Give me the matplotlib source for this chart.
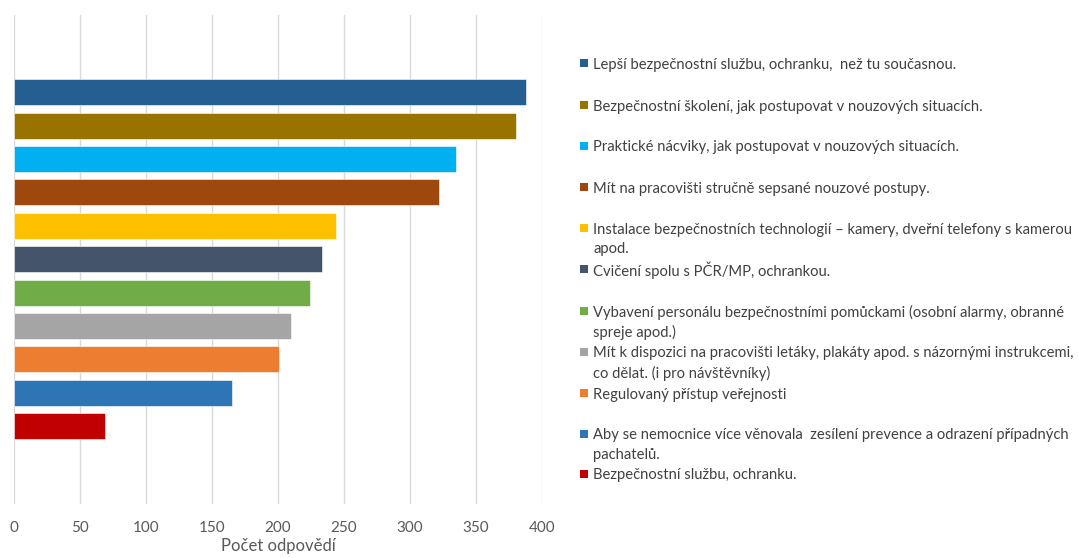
import matplotlib
matplotlib.use("Agg")
from matplotlib import pyplot as plt
from matplotlib.patches import Rectangle

# data (top to bottom)
labels = [
	"Lepší bezpečnostní službu, ochranku,  než tu současnou.",
	"Bezpečnostní školení, jak postupovat v nouzových situacích.",
	"Praktické nácviky, jak postupovat v nouzových situacích.",
	"Mít na pracovišti stručně sepsané nouzové postupy.",
	"Instalace bezpečnostních technologií – kamery, dveřní telefony s kamerou\napod.",
	"Cvičení spolu s PČR/MP, ochrankou.",
	"Vybavení personálu bezpečnostními pomůckami (osobní alarmy, obranné\nspreje apod.)",
	"Mít k dispozici na pracovišti letáky, plakáty apod. s názornými instrukcemi,\nco dělat. (i pro návštěvníky)",
	"Regulovaný přístup veřejnosti",
	"Aby se nemocnice více věnovala  zesílení prevence a odrazení případných\npachatelů.",
	"Bezpečnostní službu, ochranku.",
]
values = [388, 380, 335, 322, 244, 233, 224, 210, 201, 165, 69]
colors = ["#255e91", "#997300", "#00b0f0", "#9e480e", "#ffc000", "#44546a",
	"#70ad47", "#a5a5a5", "#ed7d31", "#2e75b6", "#c00000"]
xticks = [0, 50, 100, 150, 200, 250, 300, 350, 400]
xlabel = "Počet odpovědí"

# legend first-line positions (pixels from top)
legend_y = [63, 105, 146, 187, 228, 269, 311, 352, 393, 434, 474]

W, H = 1079, 558
plt.rcParams['font.family'] = ['Lato', 'DejaVu Sans']

fig = plt.figure(figsize=(W / 100, H / 100), dpi=100)
ax = fig.add_axes([14 / W, (H - 504) / H, (542 - 14) / W, (504 - 15) / H])

pos = list(range(len(values)))
ax.barh(pos, values, height=0.78, color=colors, edgecolor="white", linewidth=0.4, zorder=3)
ax.set_ylim(12.33, -2.31)
ax.set_xlim(0, 400)
ax.set_xticks(xticks)
ax.set_yticks([])
ax.grid(axis="x", color="#d9d9d9", linewidth=1, zorder=0)
for s in ax.spines.values():
	s.set_visible(False)
ax.tick_params(axis="x", length=0, pad=12, labelsize=11, labelcolor="#595959")

fig.text(278 / W, 1 - 546 / H, xlabel, ha="center", va="center", fontsize=12, color="#595959")

# legend drawn by hand to match the Excel layout
for lab, col, y in zip(labels, colors, legend_y):
	fig.patches.append(Rectangle((580 / W, 1 - (y + 4) / H), 8 / W, 8 / H,
		transform=fig.transFigure, facecolor=col, edgecolor="none"))
	for k, line in enumerate(lab.split("\n")):
		fig.text(593 / W, 1 - (y + 19.5 * k) / H, line, ha="left", va="center_baseline",
			fontsize=10.65, color="#404040")

fig.savefig("out.png", dpi=100)
